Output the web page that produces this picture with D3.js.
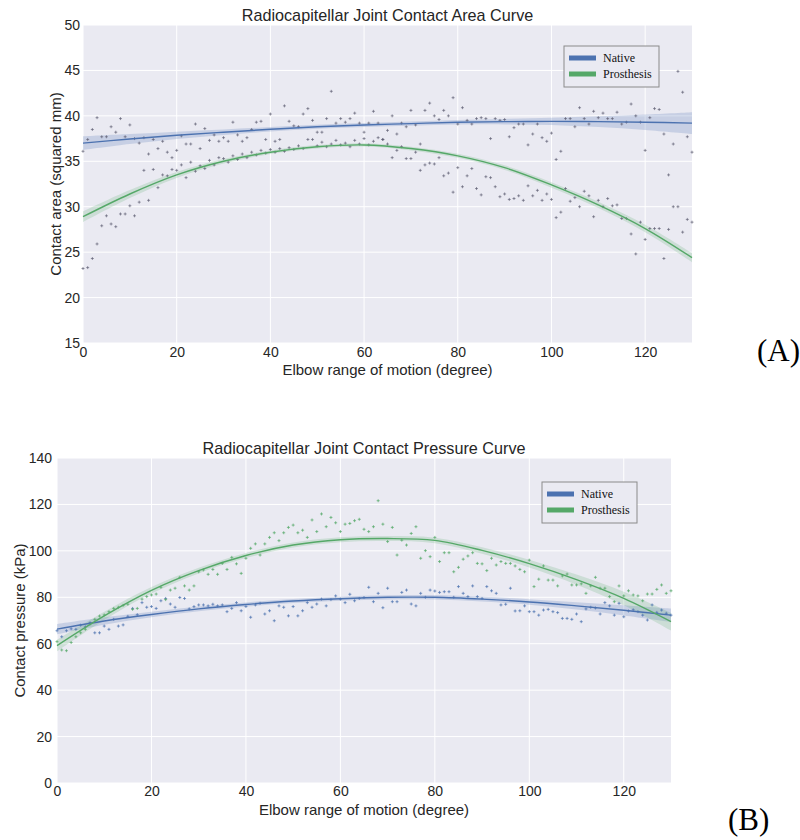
<!DOCTYPE html>
<meta charset="utf-8">
<style>
    body { margin: 0; background: #fff; }
    text { font-family: "Liberation Sans", Arial, sans-serif; fill: #262626; }
    .grid line { stroke: #fff; stroke-width: 1; }
    .legend text { font-family: "Liberation Serif", "Times New Roman", serif; font-size: 12px; fill: #111; }
    .tag { font-family: "Liberation Serif", "Times New Roman", serif; font-size: 31px; fill: #000; }
</style>
<svg width="800" height="840"></svg>
<script src="https://cdnjs.cloudflare.com/ajax/libs/d3/7.8.5/d3.min.js"></script>
<script>
    // elbow angle of every sample (degree)
    var degrees = d3.range(0, 131);
    var fitDegrees = [0, 10, 20, 30, 40, 50, 60, 70, 80, 90, 100, 110, 120, 130];
    var xTicks = [0, 20, 40, 60, 80, 100, 120];

    // (A) contact area, squared mm
    var areaNative = [
        36.1, 37.4, 38.5, 39.8, 37.7, 37.7, 38.8, 38.2, 39.7, 37.7,
        39.0, 37.5, 37.0, 37.6, 35.8, 37.4, 36.4, 37.2, 36.0, 35.4,
        36.2, 37.8, 36.9, 36.9, 39.1, 36.4, 38.6, 37.3, 37.9, 37.2,
        37.6, 37.2, 39.3, 37.9, 37.2, 37.6, 38.5, 39.3, 39.4, 37.4,
        40.2, 37.2, 37.4, 41.1, 39.4, 38.9, 38.8, 40.2, 40.8, 39.5,
        38.2, 38.2, 39.7, 42.7, 39.2, 39.7, 39.3, 39.7, 40.3, 39.2,
        38.2, 39.2, 40.5, 39.2, 37.4, 38.4, 40.0, 38.0, 39.2, 38.8,
        40.6, 39.0, 36.9, 40.6, 41.4, 40.0, 39.6, 40.6, 40.0, 42.0,
        39.1, 40.9, 39.5, 39.1, 39.7, 39.8, 39.7, 37.5, 39.7, 39.5,
        39.6, 37.7, 38.7, 39.1, 39.1, 36.8, 38.0, 39.1, 37.6, 37.2,
        38.1, 35.2, 36.1, 39.7, 39.7, 38.8, 40.9, 39.7, 39.1, 40.5,
        39.8, 40.3, 39.7, 39.7, 40.4, 39.1, 39.3, 41.3, 40.0, 39.3,
        36.2, 39.8, 40.8, 40.7, 38.0, 33.5, 36.9, 44.9, 42.6, 37.7,
        36.0
    ];
    var areaProsthesis = [
        23.2, 23.3, 24.3, 25.9, 27.9, 29.0, 28.1, 27.8, 29.2, 29.2,
        30.1, 29.0, 30.5, 34.0, 30.7, 34.1, 32.1, 33.5, 33.4, 34.1,
        34.0, 34.6, 33.2, 34.9, 33.9, 34.5, 34.2, 35.1, 34.6, 35.4,
        35.3, 34.9, 35.6, 35.2, 35.8, 35.4, 36.0, 35.7, 36.2, 35.9,
        36.3, 36.0, 36.4, 36.1, 36.5, 36.3, 36.7, 36.4, 37.4, 37.4,
        36.7, 37.1, 36.6, 36.9, 37.3, 36.8, 37.0, 36.6, 37.3, 36.9,
        37.5, 36.8, 37.2, 37.6, 37.4, 36.9, 35.4, 36.2, 36.6, 35.3,
        35.3, 36.0, 34.0, 34.6, 34.8, 34.7, 35.4, 33.4, 33.7, 31.6,
        34.3, 32.2, 33.4, 34.2, 32.0, 31.3, 33.3, 33.2, 32.2, 31.1,
        31.4, 30.8, 30.9, 31.2, 30.7, 32.3, 31.2, 31.8, 30.7, 31.4,
        30.8, 28.8, 29.4, 32.0, 30.6, 31.0, 30.0, 31.7, 31.2, 28.9,
        30.7, 30.0, 30.9, 30.1, 30.2, 28.7, 28.7, 27.0, 24.8, 28.3,
        26.4, 27.6, 27.6, 27.6, 24.3, 27.5, 30.0, 30.0, 27.2, 28.6,
        28.3
    ];
    var areaNativeFit = [37.0, 37.45, 37.86, 38.2, 38.52, 38.8, 39.0, 39.15, 39.29, 39.36, 39.39, 39.36, 39.3, 39.2];
    var areaNativeCI = [0.75, 0.55, 0.4, 0.3, 0.25, 0.22, 0.22, 0.23, 0.25, 0.3, 0.4, 0.6, 0.85, 1.2];
    var areaProsthesisFit = [28.9, 31.4, 33.5, 35.0, 36.0, 36.6, 36.8, 36.4, 35.6, 34.3, 32.4, 30.2, 27.6, 24.4];
    var areaProsthesisCI = [0.6, 0.45, 0.33, 0.25, 0.2, 0.18, 0.18, 0.2, 0.22, 0.25, 0.3, 0.35, 0.42, 0.5];

    // (B) contact pressure, kPa
    var pressureNative = [
        65.6, 63.0, 65.6, 66.4, 66.2, 68.0, 67.3, 69.0, 64.7, 64.7,
        67.6, 66.2, 70.5, 67.6, 68.1, 71.8, 75.2, 72.5, 77.7, 75.7,
        76.0, 75.2, 78.5, 79.5, 77.1, 75.7, 79.9, 79.5, 75.0, 76.0,
        76.7, 76.7, 76.3, 77.0, 76.3, 76.7, 73.8, 75.2, 77.7, 74.2,
        76.0, 71.4, 76.7, 77.4, 72.8, 74.2, 69.9, 76.3, 75.7, 72.0,
        76.0, 72.0, 74.2, 77.7, 75.7, 77.1, 79.2, 76.3, 79.0, 80.6,
        79.2, 77.7, 81.3, 78.5, 79.5, 79.9, 84.3, 78.1, 81.7, 75.5,
        83.9, 78.1, 78.1, 82.1, 83.1, 77.1, 76.3, 81.7, 80.0, 83.1,
        82.7, 82.1, 82.4, 82.4, 80.0, 84.6, 81.7, 80.3, 84.9, 80.3,
        79.5, 84.6, 82.8, 81.7, 76.7, 77.0, 83.9, 74.1, 74.2, 76.3,
        73.8, 73.8, 72.3, 74.5, 74.8, 73.8, 73.4, 70.9, 70.9, 70.5,
        72.8, 69.5, 75.0, 75.7, 75.4, 72.8, 77.7, 76.3, 72.3, 77.4,
        71.6, 74.1, 74.6, 73.8, 72.3, 70.2, 76.7, 73.5, 74.5, 73.1,
        72.3
    ];
    var pressureProsthesis = [
        60.9, 57.3, 57.0, 60.5, 63.0, 64.7, 66.2, 68.5, 70.5, 71.9,
        72.4, 73.8, 75.2, 75.7, 76.5, 77.0, 74.8, 75.2, 79.2, 80.3,
        81.0, 81.4, 84.3, 79.0, 83.1, 83.9, 88.6, 84.9, 83.1, 84.9,
        91.0, 91.8, 89.9, 92.0, 89.9, 94.6, 92.0, 97.2, 94.4, 90.3,
        96.8, 101.1, 103.0, 98.2, 103.0, 105.8, 107.8, 104.4, 107.8, 110.1,
        111.1, 107.8, 108.9, 105.8, 113.3, 108.3, 115.9, 110.4, 114.4, 112.1,
        108.3, 111.5, 111.8, 113.0, 113.6, 109.3, 108.3, 110.4, 121.6, 111.5,
        104.0, 110.1, 98.2, 104.6, 102.5, 107.5, 110.4, 96.8, 100.1, 97.5,
        105.8, 95.4, 99.2, 99.2, 91.0, 92.9, 96.4, 97.8, 99.2, 94.6,
        94.4, 91.5, 96.8, 93.9, 95.4, 94.6, 94.6, 93.5, 92.0, 91.0,
        96.0, 84.6, 87.8, 93.5, 87.4, 87.4, 84.9, 89.2, 90.0, 85.3,
        85.3, 85.8, 81.7, 84.9, 88.6, 83.9, 83.9, 80.3, 78.1, 84.9,
        80.6, 82.8, 81.0, 80.6, 78.5, 81.4, 81.4, 83.4, 85.3, 81.7,
        82.8
    ];
    var pressureNativeFit = [66.3, 69.8, 72.6, 75.0, 76.9, 78.4, 79.4, 80.0, 80.0, 79.2, 78.0, 76.3, 74.4, 72.3];
    var pressureNativeCI = [2.2, 1.6, 1.2, 1.0, 0.9, 0.85, 0.85, 0.9, 0.95, 1.0, 1.2, 1.6, 2.2, 2.9];
    var pressureProsthesisFit = [59.2, 72.0, 83.0, 91.5, 98.0, 102.5, 104.8, 105.3, 104.5, 100.2, 94.5, 87.6, 79.5, 69.5];
    var pressureProsthesisCI = [2.5, 1.8, 1.4, 1.2, 1.1, 1.05, 1.05, 1.1, 1.2, 1.4, 1.7, 2.2, 2.9, 3.8];

    var seriesNames = ["Native", "Prosthesis"];
    var blue = "#4C72B0", green = "#55A868";

    var svg = d3.select("svg");

    function drawPanel(p) {
        var x = d3.scaleLinear().domain([0, 130]).range([p.left, p.right]);
        var y = d3.scaleLinear().domain(p.yDomain).range([p.bottom, p.top]);
        var g = svg.append("g");

        g.append("rect")
            .attr("x", p.left).attr("y", p.top)
            .attr("width", p.right - p.left).attr("height", p.bottom - p.top)
            .attr("fill", "#EAEAF2");

        var grid = g.append("g").attr("class", "grid");
        grid.selectAll(".gx").data(xTicks).enter().append("line")
            .attr("x1", d => x(d)).attr("x2", d => x(d))
            .attr("y1", p.top).attr("y2", p.bottom);
        grid.selectAll(".gy").data(p.yTicks).enter().append("line")
            .attr("x1", p.left).attr("x2", p.right)
            .attr("y1", d => y(d)).attr("y2", d => y(d));

        var xAxis = g.append("g")
            .attr("transform", "translate(0," + p.bottom + ")")
            .call(d3.axisBottom(x).tickValues(xTicks).tickSize(0).tickPadding(p.xPad));
        var yAxis = g.append("g")
            .attr("transform", "translate(" + p.left + ",0)")
            .call(d3.axisLeft(y).tickValues(p.yTicks).tickSize(0).tickPadding(p.yPad));
        [xAxis, yAxis].forEach(function (a) {
            a.select(".domain").remove();
            a.selectAll("text").attr("font-size", 14).attr("fill", "#333")
                .attr("font-family", "Liberation Sans, Arial, sans-serif");
        });

        var fits = [
            { fit: p.nativeFit, ci: p.nativeCI, color: blue, op: 0.22 },
            { fit: p.prosFit, ci: p.prosCI, color: green, op: 0.2 }
        ];
        fits.forEach(function (f) {
            var rows = fitDegrees.map((d, i) => ({ d: d, v: f.fit[i], w: f.ci[i] }));
            g.append("path").datum(rows)
                .attr("fill", f.color).attr("fill-opacity", f.op)
                .attr("d", d3.area().curve(d3.curveCatmullRom)
                    .x(r => x(r.d)).y0(r => y(r.v - r.w)).y1(r => y(r.v + r.w)));
        });

        var pts = [
            { vals: p.nativePts, color: p.ptColor[0] },
            { vals: p.prosPts, color: p.ptColor[1] }
        ];
        pts.forEach(function (s) {
            g.append("g").selectAll("path")
                .data(degrees.map((d, i) => [d, s.vals[i]]))
                .enter().append("path")
                .attr("d", d => "M" + (x(d[0]) - 1.5) + "," + y(d[1]) + "h3M" + x(d[0]) + "," + (y(d[1]) - 1.5) + "v3")
                .attr("stroke", s.color).attr("stroke-width", 0.9).attr("stroke-opacity", p.ptOpacity);
        });

        fits.forEach(function (f) {
            var rows = fitDegrees.map((d, i) => ({ d: d, v: f.fit[i] }));
            g.append("path").datum(rows)
                .attr("fill", "none").attr("stroke", f.color).attr("stroke-width", 1.4)
                .attr("d", d3.line().curve(d3.curveCatmullRom).x(r => x(r.d)).y(r => y(r.v)));
        });

        g.append("text")
            .attr("x", (p.left + p.right) / 2).attr("y", p.titleY)
            .attr("text-anchor", "middle").attr("font-size", 16.2).attr("fill", "#222")
            .text(p.title);
        g.append("text")
            .attr("x", (p.left + p.right) / 2).attr("y", p.xLabelY)
            .attr("text-anchor", "middle").attr("font-size", 15).attr("fill", "#333")
            .text("Elbow range of motion (degree)");
        g.append("text")
            .attr("transform", "translate(" + p.yLabelX + "," + (p.top + p.bottom) / 2 + ") rotate(-90)")
            .attr("text-anchor", "middle").attr("font-size", 15).attr("fill", "#333")
            .text(p.yLabel);

        var lg = g.append("g").attr("class", "legend");
        lg.append("rect")
            .attr("x", p.legend[0]).attr("y", p.legend[1])
            .attr("width", 95).attr("height", 41)
            .attr("fill", "#EAEAF2").attr("stroke", "#8a8a8a").attr("stroke-width", 1);
        seriesNames.forEach(function (name, i) {
            var ly = p.legend[1] + 12 + i * 16;
            lg.append("line")
                .attr("x1", p.legend[0] + 5).attr("x2", p.legend[0] + 32)
                .attr("y1", ly).attr("y2", ly)
                .attr("stroke", i ? green : blue).attr("stroke-width", 5);
            lg.append("text")
                .attr("x", p.legend[0] + 39).attr("y", ly + 4)
                .text(name);
        });

        svg.append("text").attr("class", "tag")
            .attr("x", p.tag[0]).attr("y", p.tag[1]).text(p.tagText);
    }

    drawPanel({
        left: 83, right: 692, top: 25, bottom: 343,
        yDomain: [15, 50], yTicks: [15, 20, 25, 30, 35, 40, 45, 50],
        xPad: 4.5, yPad: 3,
        title: "Radiocapitellar Joint Contact Area Curve", titleY: 21,
        xLabelY: 375, yLabel: "Contact area (squared mm)", yLabelX: 61,
        nativePts: areaNative, prosPts: areaProsthesis,
        nativeFit: areaNativeFit, nativeCI: areaNativeCI,
        prosFit: areaProsthesisFit, prosCI: areaProsthesisCI,
        ptColor: ["#5a5a6e", "#5a5a6e"], ptOpacity: 0.7,
        legend: [564, 46],
        tag: [757, 361], tagText: "(A)"
    });

    drawPanel({
        left: 57, right: 671, top: 458, bottom: 783,
        yDomain: [0, 140], yTicks: [0, 20, 40, 60, 80, 100, 120, 140],
        xPad: 3.5, yPad: 5,
        title: "Radiocapitellar Joint Contact Pressure Curve", titleY: 454,
        xLabelY: 815, yLabel: "Contact pressure (kPa)", yLabelX: 25,
        nativePts: pressureNative, prosPts: pressureProsthesis,
        nativeFit: pressureNativeFit, nativeCI: pressureNativeCI,
        prosFit: pressureProsthesisFit, prosCI: pressureProsthesisCI,
        ptColor: [blue, green], ptOpacity: 0.8,
        legend: [542, 482],
        tag: [728, 830], tagText: "(B)"
    });
</script>
